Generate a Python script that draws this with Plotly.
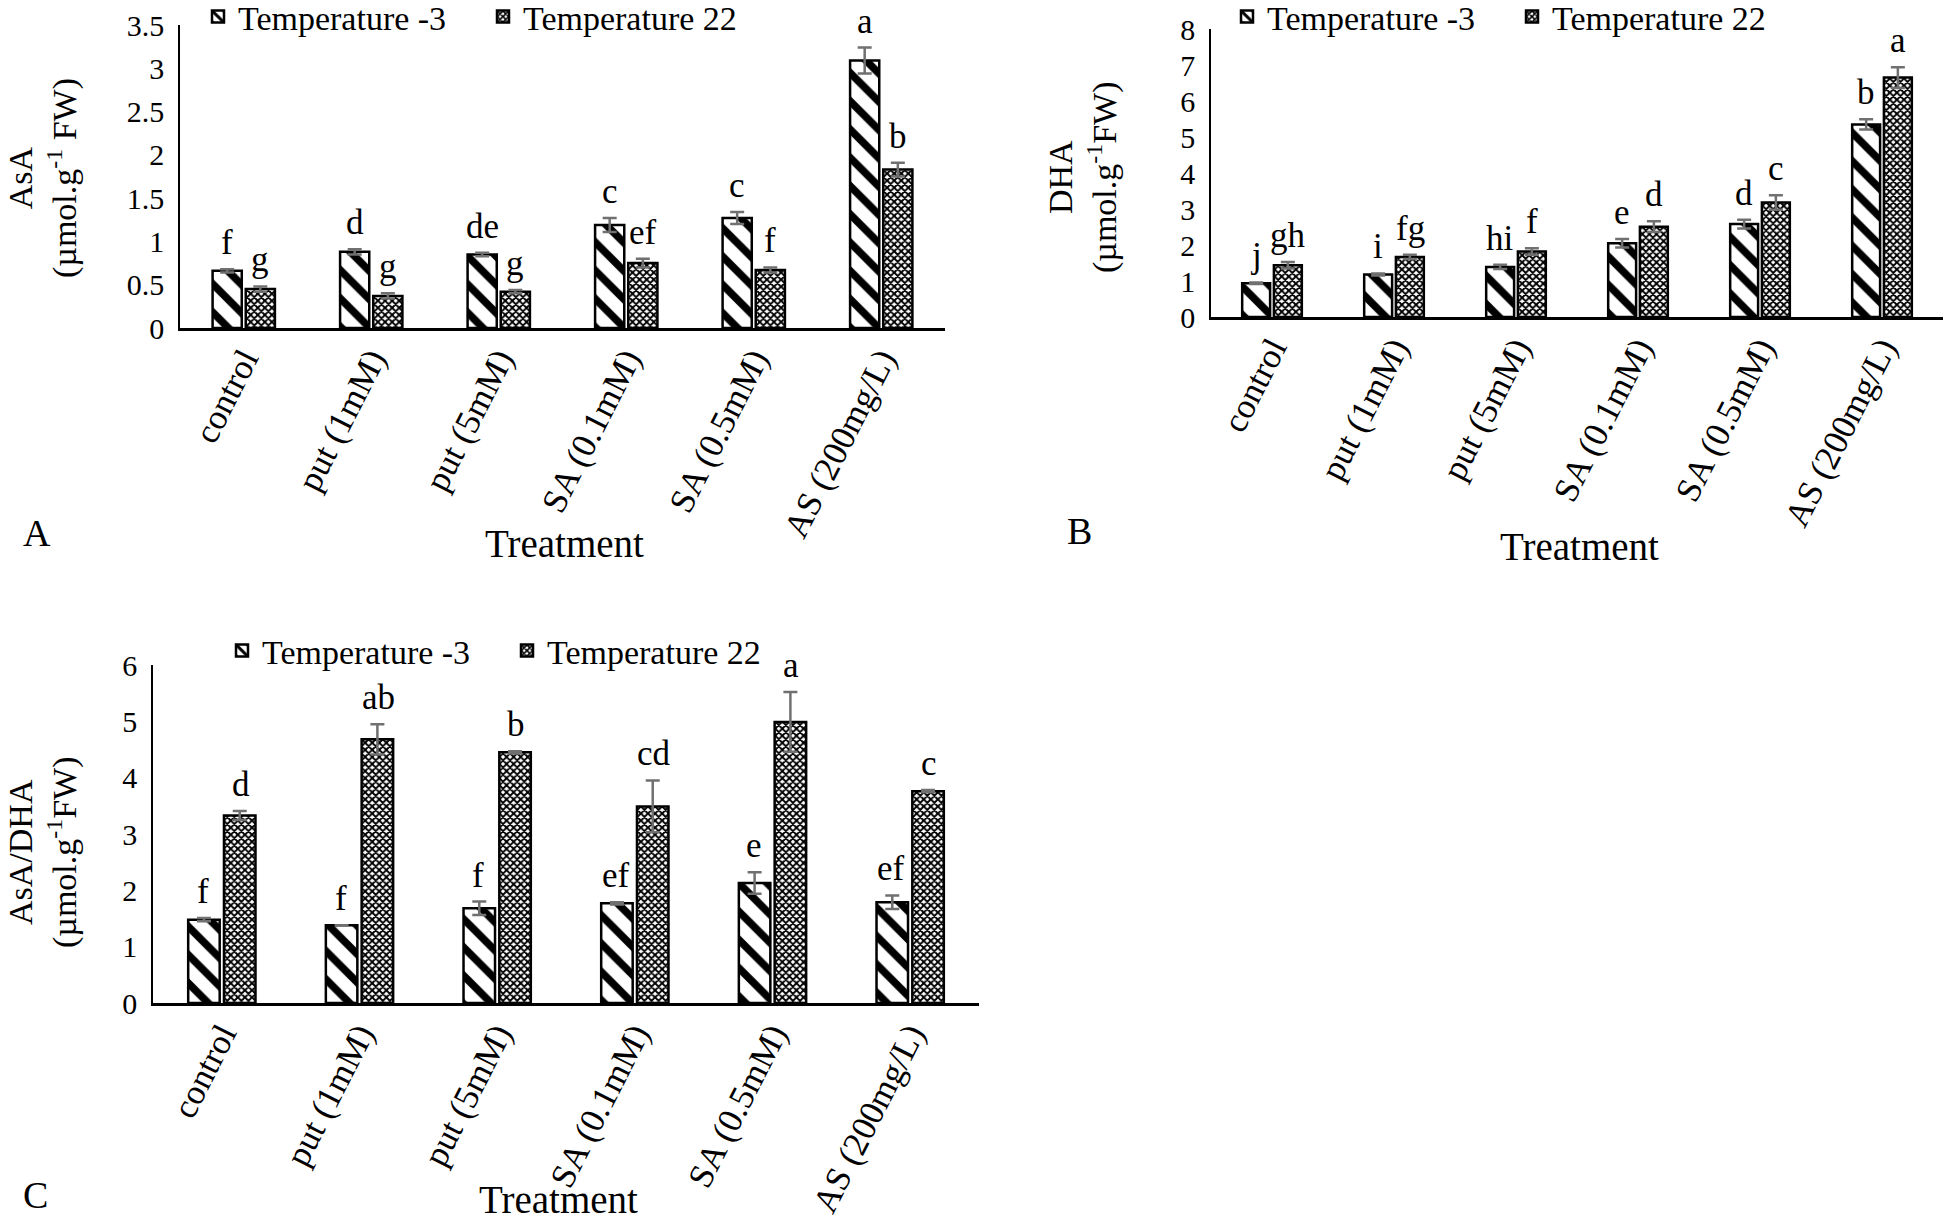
import plotly.graph_objects as go

treatments = ["control", "put (1mM)", "put (5mM)", "SA (0.1mM)", "SA (0.5mM)", "AS (200mg/L)"]

# panel A - AsA
asa_m3 = [0.66, 0.88, 0.85, 1.19, 1.27, 3.09]
asa_m3_err = [0.02, 0.03, 0.02, 0.08, 0.07, 0.15]
asa_22 = [0.45, 0.37, 0.42, 0.75, 0.67, 1.83]
asa_22_err = [0.03, 0.03, 0.02, 0.05, 0.03, 0.08]
asa_m3_let = ["f", "d", "de", "c", "c", "a"]
asa_22_let = ["g", "g", "g", "ef", "f", "b"]

# panel B - DHA
dha_m3 = [0.94, 1.18, 1.39, 2.05, 2.58, 5.35]
dha_m3_err = [0.02, 0.03, 0.06, 0.12, 0.12, 0.14]
dha_22 = [1.44, 1.67, 1.82, 2.51, 3.18, 6.65]
dha_22_err = [0.09, 0.06, 0.09, 0.15, 0.2, 0.29]
dha_m3_let = ["j", "i", "hi", "e", "d", "b"]
dha_22_let = ["gh", "fg", "f", "d", "c", "a"]

# panel C - AsA/DHA
rat_m3 = [1.48, 1.38, 1.68, 1.77, 2.13, 1.79]
rat_m3_err = [0.03, 0.0, 0.12, 0.02, 0.19, 0.12]
rat_22 = [3.33, 4.68, 4.45, 3.49, 4.99, 3.76]
rat_22_err = [0.08, 0.27, 0.02, 0.46, 0.53, 0.02]
rat_m3_let = ["f", "f", "f", "ef", "e", "ef"]
rat_22_let = ["d", "ab", "b", "cd", "a", "c"]

FONT = "Liberation Serif"
W, H = 1945, 1222

def px(x):
    return x / W

def py(y):
    return 1 - y / H

panels = [
    dict(s="", d=(asa_m3, asa_m3_err, asa_22, asa_22_err, asa_m3_let, asa_22_let),
         x=(180, 945), y=(328, 25), ymax=3.5, dtick=0.5, gap=0.48, leg=(198, 17)),
    dict(s="2", d=(dha_m3, dha_m3_err, dha_22, dha_22_err, dha_m3_let, dha_22_let),
         x=(1211, 1943), y=(317, 29), ymax=8, dtick=1, gap=0.47, leg=(1227, 17)),
    dict(s="3", d=(rat_m3, rat_m3_err, rat_22, rat_22_err, rat_m3_let, rat_22_let),
         x=(153, 979), y=(1003, 665), ymax=6, dtick=1, gap=0.45, leg=(222, 651)),
]

stripe = dict(shape="\\", fgcolor="black", bgcolor="white", fgopacity=1,
              size=20, solidity=0.38)
checker = dict(shape="x", fgcolor="black", bgcolor="white", fgopacity=1,
               size=5, solidity=0.62)

fig = go.Figure()
annotations = []
layout = {}

for p in panels:
    s = p["s"]
    m3, m3e, t22, t22e, m3l, t22l = p["d"]
    xa, ya = "x" + s, "y" + s
    leg = "legend" + s
    for name, vals, errs, pat in [("Temperature -3", m3, m3e, stripe),
                                  ("Temperature 22", t22, t22e, checker)]:
        fig.add_trace(go.Bar(
            x=treatments, y=vals, name=name, xaxis=xa, yaxis=ya, legend=leg,
            marker=dict(color="white", pattern=pat, line=dict(color="black", width=2.5)),
            error_y=dict(type="data", array=errs, color="#707070", thickness=2.5, width=7),
        ))
    off = (1 - p["gap"]) / 4
    for i in range(len(treatments)):
        for sign, vals, errs, lets in [(-1, m3, m3e, m3l), (1, t22, t22e, t22l)]:
            annotations.append(dict(
                x=i + sign * off, y=vals[i] + errs[i], xref=xa, yref=ya,
                text=lets[i], showarrow=False, yanchor="bottom", yshift=5,
                font=dict(family=FONT, size=35, color="black")))
    x0, x1 = p["x"]
    y0, y1 = p["y"]
    layout["xaxis" + s] = dict(
        domain=[px(x0), px(x1)], anchor=ya, type="category", range=[-0.5, 5.5],
        showline=True, linecolor="black", linewidth=3, ticks="", showgrid=False,
        zeroline=False, tickangle=-63, ticklabelstandoff=-6,
        tickfont=dict(family=FONT, size=35, color="black"))
    layout["yaxis" + s] = dict(
        domain=[py(y0), py(y1)], anchor=xa, range=[0, p["ymax"]], dtick=p["dtick"],
        showline=True, linecolor="black", linewidth=1.5, ticks="", showgrid=False,
        zeroline=False, ticklabelstandoff=8,
        tickfont=dict(family=FONT, size=30, color="black"))
    lx, ly = p["leg"]
    layout[leg] = dict(
        x=px(lx), y=py(ly), xanchor="left", yanchor="middle", orientation="h",
        font=dict(family=FONT, size=34, color="black"), bgcolor="rgba(0,0,0,0)",
        entrywidth=240, entrywidthmode="pixels", itemwidth=30, tracegroupgap=0)

# axis titles and panel labels
ytitles = [("AsA<br>(µmol.g<sup>-1</sup> FW)", 43, 178),
           ("DHA<br>(µmol.g<sup>-1</sup>FW)", 1083, 178),
           ("AsA/DHA<br>(µmol.g<sup>-1</sup>FW)", 43, 853)]
for txt, x, y in ytitles:
    annotations.append(dict(x=px(x), y=py(y), xref="paper", yref="paper", text=txt,
                            textangle=-90, showarrow=False, xanchor="center", yanchor="middle",
                            font=dict(family=FONT, size=34, color="black")))
for x, y in [(564, 543), (1579, 546), (558, 1199)]:
    annotations.append(dict(x=px(x), y=py(y), xref="paper", yref="paper", text="Treatment",
                            showarrow=False, xanchor="center", yanchor="middle",
                            font=dict(family=FONT, size=39, color="black")))
for lab, x, y in [("A", 37, 533), ("B", 1079, 531), ("C", 35, 1195)]:
    annotations.append(dict(x=px(x), y=py(y), xref="paper", yref="paper", text=lab,
                            showarrow=False, xanchor="center", yanchor="middle",
                            font=dict(family=FONT, size=38, color="black")))

fig.update_layout(
    width=W, height=H, autosize=False,
    margin=dict(l=0, r=0, t=0, b=0, autoexpand=False),
    paper_bgcolor="white", plot_bgcolor="white",
    barmode="group", bargap=0.48, bargroupgap=0.12,
    annotations=annotations, **layout)

# drop the default page margin so the figure sits at the window corner
fig.write_html("out.html", config={"displayModeBar": False},
               post_script="document.body.style.margin = '0';")
